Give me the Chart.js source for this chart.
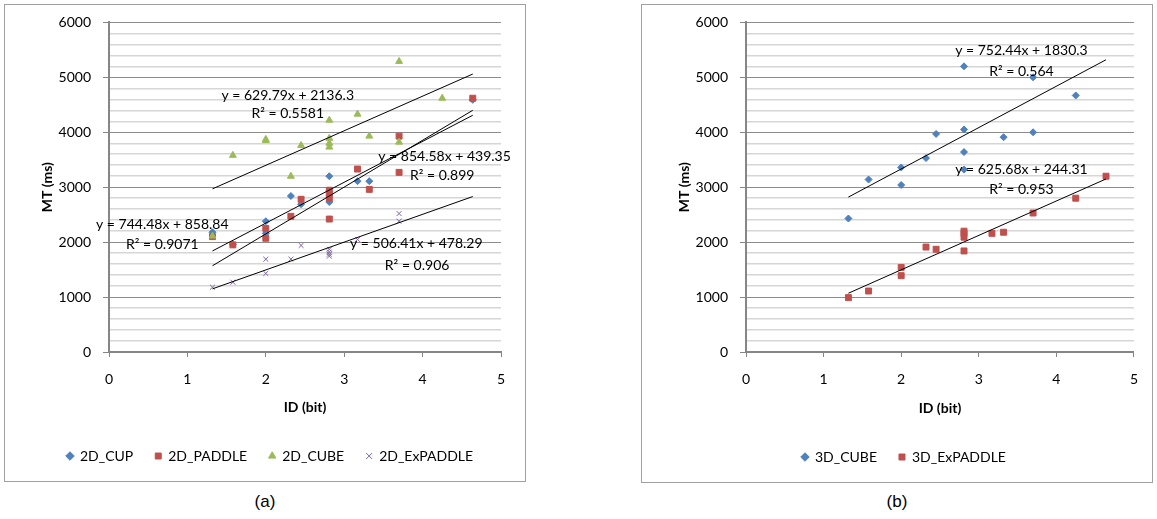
<!DOCTYPE html>
<html>
<head>
<meta charset="utf-8">
<script src="https://cdn.jsdelivr.net/npm/chart.js@4.4.0/dist/chart.umd.min.js"></script>
<style>
    body { margin: 0; background: #fff; width: 1157px; height: 519px; position: relative; overflow: hidden; }
    .frame { position: absolute; border: 1px solid #a0a0a0; box-sizing: border-box; }
    .frame canvas { display: block; margin-top: -3px; }
    .caption { position: absolute; top: 492px; font-family: 'Liberation Sans', Arial, sans-serif; font-size: 17px; color: #000; transform: translateX(-50%); }
</style>
</head>
<body>
<div class="frame" style="left:4px; top:4px; width:522px; height:478px;">
    <canvas id="chart2d" width="520" height="476"></canvas>
</div>
<div class="frame" style="left:641px; top:4px; width:512px; height:479px;">
    <canvas id="chart3d" width="510" height="477"></canvas>
</div>
<div class="caption" style="left:265px;">(a)</div>
<div class="caption" style="left:897px;">(b)</div>

<script>
// ---- data ----
const xTicks = [0, 1, 2, 3, 4, 5];
const yTicks = [0, 1000, 2000, 3000, 4000, 5000, 6000];

// (a) 2D conditions: ID (bit) vs MT (ms)
const cup2dX = [1.32, 1.58, 2.0, 2.0, 2.32, 2.45, 2.81, 2.81, 3.17, 3.32, 4.64];
const cup2dY = [2180, 1960, 2380, 2160, 2840, 2690, 3200, 2730, 3110, 3110, 4590];
const paddle2dX = [1.32, 1.58, 2.0, 2.0, 2.32, 2.45, 2.81, 2.81, 2.81, 2.81, 3.17, 3.32, 3.70, 3.70, 4.64];
const paddle2dY = [2100, 1950, 2250, 2070, 2470, 2780, 2945, 2890, 2800, 2420, 3330, 2960, 3930, 3270, 4620];
const cube2dX = [1.32, 1.58, 2.0, 2.0, 2.32, 2.45, 2.81, 2.81, 2.81, 2.81, 3.17, 3.32, 3.70, 3.70, 4.25];
const cube2dY = [2110, 3580, 3850, 3870, 3200, 3760, 4220, 3890, 3800, 3730, 4330, 3930, 5290, 3820, 4620];
const expaddle2dX = [1.32, 1.58, 2.0, 2.0, 2.32, 2.45, 2.81, 2.81, 2.81, 2.81, 3.17, 3.70, 3.70];
const expaddle2dY = [1180, 1270, 1690, 1430, 1690, 1940, 1870, 1820, 1780, 1745, 2050, 2520, 2380];

// (b) 3D conditions
const cube3dX = [1.32, 1.58, 2.0, 2.0, 2.32, 2.45, 2.81, 2.81, 2.81, 2.81, 3.32, 3.70, 3.70, 4.25];
const cube3dY = [2430, 3140, 3360, 3040, 3530, 3970, 5200, 4050, 3640, 3320, 3910, 5000, 4000, 4670];
const expaddle3dX = [1.32, 1.58, 2.0, 2.0, 2.32, 2.45, 2.81, 2.81, 2.81, 2.81, 3.17, 3.32, 3.70, 4.25, 4.64];
const expaddle3dY = [990, 1110, 1540, 1390, 1910, 1870, 2200, 2160, 2090, 1840, 2160, 2180, 2530, 2800, 3200];

// linear trendlines, end points (x = first / last ID)
const trendX = [1.32, 4.64];
const cup2dTrend = [1840, 4310];
const paddle2dTrend = [1570, 4400];
const cube2dTrend = [2970, 5060];
const expaddle2dTrend = [1150, 2830];
const cube3dTrend = [2820, 5320];
const expaddle3dTrend = [1070, 3150];

// equation labels shown next to the trendlines
const eq2dText = ['y = 629.79x + 2136.3', 'R² = 0.5581', 'y = 854.58x + 439.35', 'R² = 0.899',
                  'y = 744.48x + 858.84', 'R² = 0.9071', 'y = 506.41x + 478.29', 'R² = 0.906'];
const eq3dText = ['y = 752.44x + 1830.3', 'R² = 0.564', 'y = 625.68x + 244.31', 'R² = 0.953'];

// ---- styling ----
const COLORS = { blue: '#4F81BD', red: '#C0504D', green: '#9BBB59', purple: '#8064A2' };
const FONT = 'Lato, "Open Sans", sans-serif';

// draws the Excel-style trendline equations at data positions
const equationPlugin = {
    id: 'equations',
    afterDatasetsDraw(chart, args, opts) {
        const ctx = chart.ctx;
        const xs = chart.scales.x;
        const ys = chart.scales.y;
        ctx.save();
        ctx.font = '14px ' + FONT;
        ctx.fillStyle = '#000';
        ctx.textAlign = 'center';
        ctx.textBaseline = 'middle';
        opts.items.forEach(item => {
            ctx.fillText(item.text, xs.getPixelForValue(item.x), ys.getPixelForValue(item.y));
        });
        ctx.restore();
    }
};

// rotated y axis title, placed a fixed distance left of the plot
const yTitlePlugin = {
    id: 'yTitle',
    afterDraw(chart, args, opts) {
        const ctx = chart.ctx;
        const area = chart.chartArea;
        ctx.save();
        ctx.translate(area.left - opts.offset, (area.top + area.bottom) / 2);
        ctx.rotate(-Math.PI / 2);
        ctx.font = 'bold 14px ' + FONT;
        ctx.fillStyle = '#000';
        ctx.textAlign = 'center';
        ctx.textBaseline = 'middle';
        ctx.fillText(opts.text, 0, 0);
        ctx.restore();
    }
};

// moves the legend so it sits where Excel put it
const legendShift = {
    id: 'legendShift',
    afterLayout(chart, args, opts) {
        const lg = chart.legend;
        if (!lg) return;
        const w = lg.right - lg.left;
        lg.left = opts.left;
        lg.right = opts.left + w;
    }
};

function toPoints(xs, ys) {
    return xs.map((x, i) => ({ x: x, y: ys[i] }));
}

function buildChart(canvasId, series, trends, equations, lay) {
    const datasets = series.map((s, i) => ({
        label: s.label,
        data: toPoints(s.x, s.y),
        pointStyle: s.style,
        pointRadius: s.radius,
        pointHoverRadius: s.radius,
        backgroundColor: s.color,
        borderColor: s.color,
        borderWidth: 1,
        showLine: false,
        order: 10 - i // later series on top, like Excel
    }));
    trends.forEach(t => {
        datasets.push({
            label: 'trend',
            trend: true,
            data: toPoints(trendX, t),
            showLine: true,
            pointRadius: 0,
            borderColor: '#000',
            borderWidth: 1,
            order: 0
        });
    });

    return new Chart(document.getElementById(canvasId), {
        type: 'scatter',
        data: { datasets: datasets },
        plugins: [equationPlugin, yTitlePlugin, legendShift],
        options: {
            responsive: false,
            animation: false,
            layout: { padding: { left: 34, right: lay.right, top: 5, bottom: 5 } },
            plugins: {
                tooltip: { enabled: false },
                equations: { items: equations },
                yTitle: { text: 'MT (ms)', offset: 62 },
                legendShift: { left: lay.legendLeft },
                legend: {
                    position: 'bottom',
                    align: 'start',
                    labels: {
                        filter: (item, data) => !data.datasets[item.datasetIndex].trend,
                        sort: (a, b) => a.datasetIndex - b.datasetIndex,
                        usePointStyle: true,
                        boxWidth: 6,
                        boxHeight: 6,
                        padding: 22,
                        color: '#000',
                        font: { family: FONT, size: 14 }
                    }
                }
            },
            scales: {
                x: {
                    type: 'linear',
                    min: 0,
                    max: 5,
                    afterBuildTicks: scale => { scale.ticks = xTicks.map(v => ({ value: v })); },
                    afterFit: scale => { scale.height = lay.xHeight; },
                    ticks: { color: '#000', padding: 14, font: { family: FONT, size: 14 } },
                    grid: { drawOnChartArea: false, tickLength: 5, tickColor: '#868686', tickWidth: 1 },
                    border: { color: '#868686', width: 2 },
                    title: {
                        display: true,
                        text: 'ID (bit)',
                        color: '#000',
                        font: { family: FONT, size: 14, weight: 'bold' },
                        padding: { top: 4, bottom: 11 }
                    }
                },
                y: {
                    min: 0,
                    max: 6000,
                    afterFit: scale => { scale.width = 70; },
                    ticks: {
                        stepSize: 200,
                        autoSkip: false,
                        padding: 12,
                        color: '#000',
                        font: { family: FONT, size: 14 },
                        callback: v => (yTicks.includes(v) ? v : '')
                    },
                    grid: {
                        color: ctx => (ctx.tick && ctx.tick.value % 1000 === 0 ? '#8c8c8c' : '#d6d6d6'),
                        lineWidth: ctx => (ctx.tick && ctx.tick.value % 1000 === 0 ? 1 : 1.5),
                        tickColor: ctx => (ctx.tick && ctx.tick.value % 1000 === 0 ? '#868686' : 'rgba(0,0,0,0)'),
                        tickLength: 6
                    },
                    border: { color: '#868686', width: 2 },
                    title: { display: false }
                }
            }
        }
    });
}

// (a) 2D chart
buildChart('chart2d', [
    { label: '2D_CUP', x: cup2dX, y: cup2dY, color: COLORS.blue, style: 'rectRot', radius: 3.5 },
    { label: '2D_PADDLE', x: paddle2dX, y: paddle2dY, color: COLORS.red, style: 'rect', radius: 4.2 },
    { label: '2D_CUBE', x: cube2dX, y: cube2dY, color: COLORS.green, style: 'triangle', radius: 4 },
    { label: '2D_ExPADDLE', x: expaddle2dX, y: expaddle2dY, color: COLORS.purple, style: 'crossRot', radius: 3.5 }
], [cup2dTrend, paddle2dTrend, cube2dTrend, expaddle2dTrend], [
    { text: eq2dText[0], x: 2.28, y: 4670 },
    { text: eq2dText[1], x: 2.28, y: 4340 },
    { text: eq2dText[2], x: 4.28, y: 3560 },
    { text: eq2dText[3], x: 4.25, y: 3220 },
    { text: eq2dText[4], x: 0.68, y: 2330 },
    { text: eq2dText[5], x: 0.68, y: 1965 },
    { text: eq2dText[6], x: 3.92, y: 1980 },
    { text: eq2dText[7], x: 3.93, y: 1580 }
], { right: 24, xHeight: 75, legendLeft: 40 });

// (b) 3D chart
buildChart('chart3d', [
    { label: '3D_CUBE', x: cube3dX, y: cube3dY, color: COLORS.blue, style: 'rectRot', radius: 3.5 },
    { label: '3D_ExPADDLE', x: expaddle3dX, y: expaddle3dY, color: COLORS.red, style: 'rect', radius: 4.2 }
], [cube3dTrend, expaddle3dTrend], [
    { text: eq3dText[0], x: 3.55, y: 5490 },
    { text: eq3dText[1], x: 3.55, y: 5110 },
    { text: eq3dText[2], x: 3.55, y: 3330 },
    { text: eq3dText[3], x: 3.55, y: 2960 }
], { right: 13, xHeight: 76, legendLeft: 138 });
</script>
</body>
</html>
